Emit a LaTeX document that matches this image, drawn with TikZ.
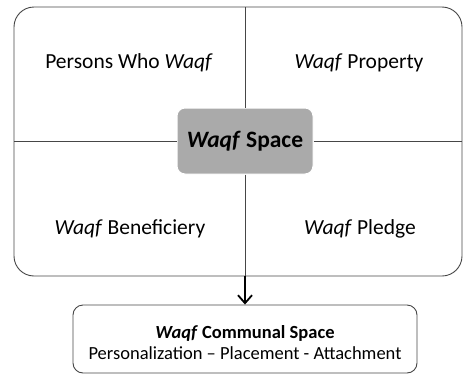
\documentclass[tikz,border=0pt]{standalone}
\usepackage{fontspec}
\setmainfont{Carlito}
\usetikzlibrary{arrows.meta}
\definecolor{linec}{RGB}{70,70,70}
\definecolor{boxgray}{RGB}{170,170,170}
\tikzset{
  quadtext/.style={font=\fontsize{21.5}{24}\selectfont, text=black, inner sep=0pt},
  frame/.style={draw=linec, line width=0.9pt, rounded corners=20pt},
  centerbox/.style={fill=boxgray, draw=white, line width=1pt, rounded corners=8pt, minimum width=136pt, minimum height=66pt, inner sep=0pt, font=\fontsize{23.5}{26}\selectfont\bfseries},
  outbox/.style={draw=linec, line width=0.9pt, rounded corners=10pt, minimum width=344pt, minimum height=68pt, inner sep=0pt, align=center, font=\fontsize{18.5}{21}\selectfont},
}
\begin{document}
\begin{tikzpicture}[x=1pt,y=-1pt]
\useasboundingbox (0,0) rectangle (463,375);
\draw[frame] (14,7) rectangle (462,276);
\coordinate (top) at (245,7);
\coordinate (bot) at (245,276);
\coordinate (lft) at (14,141);
\coordinate (rgt) at (462,141);
\node[centerbox] (cs) at (245,141) {\textit{Waqf} Space};
\draw[linec, line width=0.9pt] (top) -- (cs.north);
\draw[linec, line width=0.9pt] (lft) -- (cs.west);
\draw[linec, line width=0.9pt] (cs.east) -- (rgt);
\draw[linec, line width=0.9pt] (cs.south) -- (bot);
\node[quadtext] (pw) at (129,63) {Persons Who \textit{Waqf}};
\node[quadtext] (wp) at (359,63) {\textit{Waqf} Property};
\node[quadtext] (wb) at (130,229) {\textit{Waqf} Beneficiery};
\node[quadtext] (wl) at (360,229) {\textit{Waqf} Pledge};
\node[outbox, minimum height=68pt] (out) at (245,339) {};
\node[align=center, inner sep=0pt, font=\fontsize{18.5}{21}\selectfont] (outtxt) at (245,343) {\textbf{\textit{Waqf} Communal Space}\\Personalization -- Placement - Attachment};
\draw[black, line width=1.8pt, -{Straight Barb[length=8pt,width=14pt]}] (bot) -- (out.north);
\end{tikzpicture}
\end{document}
